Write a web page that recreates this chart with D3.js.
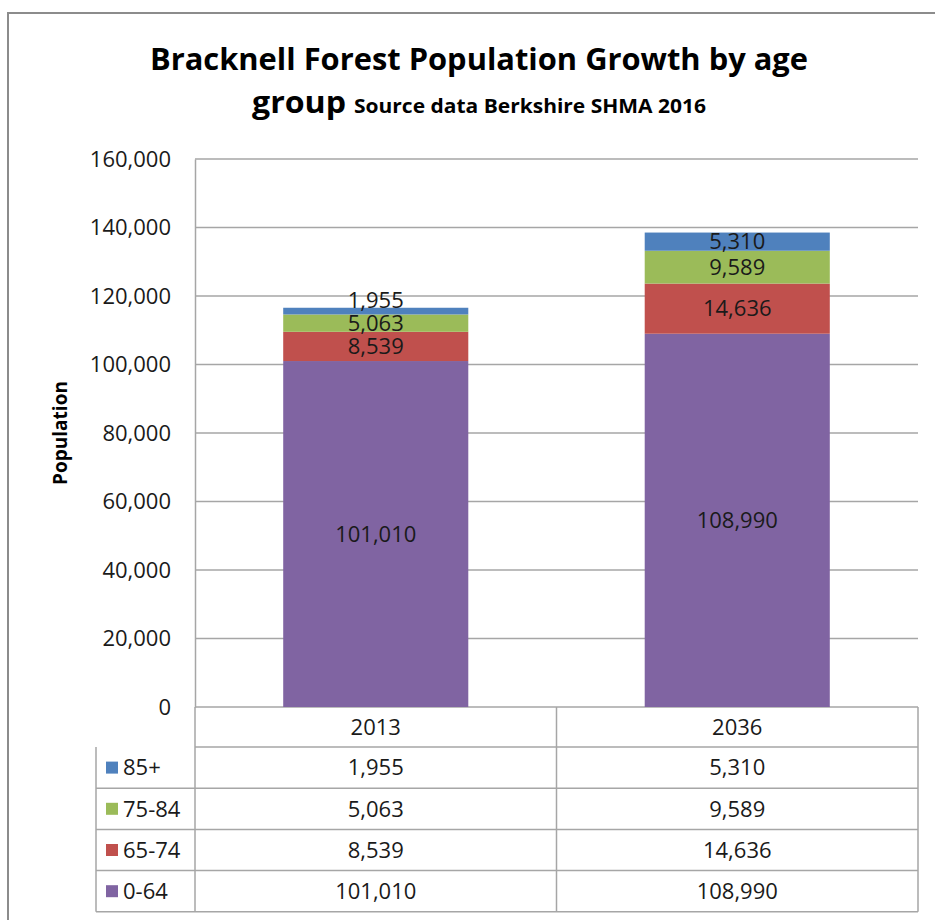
<!DOCTYPE html>
<meta charset="UTF-8">
<html>
<head>
<script src="https://cdnjs.cloudflare.com/ajax/libs/d3/7.8.5/d3.min.js"></script>
<style>
  body { margin: 0; background: #fff; }
  text { font-family: "Open Sans", "Liberation Sans", sans-serif; fill: #1a1a1a; }
  .bold { font-weight: bold; fill: #000; }
</style>
</head>
<body>
<div id="chart"></div>
<script>
// data
var years = ['2013', '2036'];
var groups = ['0-64', '65-74', '75-84', '85+'];          // bottom to top in the stack
var groupColors = ['#8064A2', '#C0504D', '#9BBB59', '#4F81BD'];
var pop_0_64  = [101010, 108990];
var pop_65_74 = [8539, 14636];
var pop_75_84 = [5063, 9589];
var pop_85    = [1955, 5310];
var yTicks = [0, 20000, 40000, 60000, 80000, 100000, 120000, 140000, 160000];
var tableOrder = ['85+', '75-84', '65-74', '0-64'];     // rows of the data table

(function () {
var W = 935, H = 920;
var svg = d3.select('#chart').append('svg').attr('width', W).attr('height', H);

// outer chart border (runs off the right/bottom of the crop)
svg.append('rect').attr('x', 8).attr('y', 13).attr('width', 960).attr('height', 960)
  .attr('fill', 'none').attr('stroke', '#8c8c8c').attr('stroke-width', 2);

// title
svg.append('text').attr('class', 'bold').attr('x', 479).attr('y', 70)
  .attr('text-anchor', 'middle').style('font-size', '30px')
  .attr('textLength', 658).attr('lengthAdjust', 'spacingAndGlyphs')
  .text('Bracknell Forest Population Growth by age');
var t2 = svg.append('text').attr('class', 'bold').attr('x', 252).attr('y', 113);
t2.append('tspan').style('font-size', '30px').attr('textLength', 94).attr('lengthAdjust', 'spacingAndGlyphs').text('group');
t2.append('tspan').attr('dx', 8).style('font-size', '19px').attr('textLength', 352).attr('lengthAdjust', 'spacingAndGlyphs').text('Source data Berkshire SHMA 2016');

var pL = 195, pR = 918, pT = 159, pB = 707;
var x = d3.scaleBand().domain(years).range([pL, pR]).padding(0);
var y = d3.scaleLinear().domain([0, 160000]).range([pB, pT]);
var barW = x.bandwidth() * 0.512;

// gridlines
svg.append('g').selectAll('line').data(yTicks).enter().append('line')
  .attr('x1', pL).attr('x2', pR)
  .attr('y1', function (d) { return y(d); }).attr('y2', function (d) { return y(d); })
  .attr('stroke', '#a6a6a6').attr('stroke-width', 1.5);

// y axis
var yAxis = d3.axisLeft(y).tickValues(yTicks).tickSize(0).tickPadding(24)
  .tickFormat(d3.format(','));
var ya = svg.append('g').attr('transform', 'translate(' + pL + ',0)').call(yAxis);
ya.select('.domain').attr('stroke', '#a6a6a6').attr('stroke-width', 1.5);
ya.selectAll('text').style('font-size', '22px').attr('fill', '#1a1a1a')
  .style('font-family', '"Open Sans", sans-serif');

svg.append('text').attr('class', 'bold')
  .attr('transform', 'translate(67,433) rotate(-90)')
  .attr('text-anchor', 'middle').style('font-size', '19px').text('Population');

// stacked bars
var rows = years.map(function (yr, i) {
  return { year: yr, '0-64': pop_0_64[i], '65-74': pop_65_74[i], '75-84': pop_75_84[i], '85+': pop_85[i] };
});
var series = d3.stack().keys(groups)(rows);
var color = d3.scaleOrdinal().domain(groups).range(groupColors);

svg.append('g').selectAll('g').data(series).enter().append('g')
  .attr('fill', function (d) { return color(d.key); })
  .selectAll('rect').data(function (d) { return d; }).enter().append('rect')
  .attr('x', function (d) { return x(d.data.year) + (x.bandwidth() - barW) / 2; })
  .attr('width', barW)
  .attr('y', function (d) { return y(d[1]); })
  .attr('height', function (d) { return y(d[0]) - y(d[1]); });

// data labels, centred in segments, nudged up if they would collide
var fmt = d3.format(',');
years.forEach(function (yr, i) {
  var prev = null;
  series.forEach(function (s) {
    var d = s[i];
    var cy = (y(d[0]) + y(d[1])) / 2;
    if (prev !== null && prev - cy < 23) cy = prev - 23;
    prev = cy;
    svg.append('text').attr('x', x(yr) + x.bandwidth() / 2).attr('y', cy)
      .attr('text-anchor', 'middle').attr('dy', '0.35em')
      .style('font-size', '22px').text(fmt(d.data[s.key]));
  });
});

// data table under the plot
var tLeft = 96, headTop = pB, headH = 40, rowH = 41.2;
var tBottom = headTop + headH + rowH * tableOrder.length;
var lc = '#a6a6a6';
var tbl = svg.append('g');
function hline(x1, x2, yy) {
  tbl.append('line').attr('x1', x1).attr('x2', x2).attr('y1', yy).attr('y2', yy)
    .attr('stroke', lc).attr('stroke-width', 1.5);
}
function vline(xx, y1, y2) {
  tbl.append('line').attr('x1', xx).attr('x2', xx).attr('y1', y1).attr('y2', y2)
    .attr('stroke', lc).attr('stroke-width', 1.5);
}
hline(pL, pR, headTop + headH);
for (var r = 1; r <= tableOrder.length; r++) hline(tLeft, pR, headTop + headH + rowH * r);
vline(tLeft, headTop + headH, tBottom);
vline(pL, headTop, tBottom);
years.forEach(function (yr) { vline(x(yr) + x.bandwidth(), headTop, tBottom); });

tbl.selectAll('text.head').data(years).enter().append('text')
  .attr('x', function (d) { return x(d) + x.bandwidth() / 2; })
  .attr('y', headTop + headH / 2).attr('dy', '0.35em').attr('text-anchor', 'middle')
  .style('font-size', '22px').text(function (d) { return d; });

var byGroup = { '0-64': pop_0_64, '65-74': pop_65_74, '75-84': pop_75_84, '85+': pop_85 };
tableOrder.forEach(function (g, r) {
  var cy = headTop + headH + rowH * r + rowH / 2;
  tbl.append('rect').attr('x', tLeft + 10).attr('y', cy - 6).attr('width', 12).attr('height', 12)
    .attr('fill', color(g));
  tbl.append('text').attr('x', tLeft + 27).attr('y', cy).attr('dy', '0.35em')
    .style('font-size', '22px').text(g);
  years.forEach(function (yr, i) {
    tbl.append('text').attr('x', x(yr) + x.bandwidth() / 2).attr('y', cy).attr('dy', '0.35em')
      .attr('text-anchor', 'middle').style('font-size', '22px').text(fmt(byGroup[g][i]));
  });
});
})();
</script>
</body>
</html>
